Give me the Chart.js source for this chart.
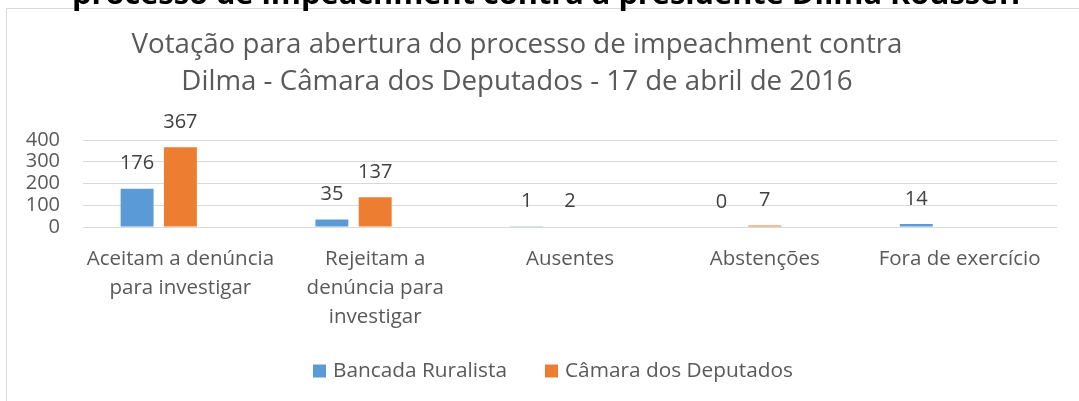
<!DOCTYPE html>
<html>
<head>
<meta charset="utf-8">
<script src="https://cdn.jsdelivr.net/npm/chart.js@4.4.0/dist/chart.umd.min.js"></script>
<style>
html,body{margin:0;padding:0;background:#fff;overflow:hidden;}
#wrap{position:absolute;left:0;top:0;width:1079px;height:401px;}
</style>
</head>
<body>
<div id="wrap"><canvas id="c" width="1079" height="401"></canvas></div>
<script>
const categories = [
  ["Aceitam a denúncia", "para investigar"],
  ["Rejeitam a", "denúncia para", "investigar"],
  "Ausentes",
  "Abstenções",
  "Fora de exercício"
];
const seriesNames = ["Bancada Ruralista", "Câmara dos Deputados"];
const bancadaRuralista = [176, 35, 1, 0, 14];
const camaraDeputados = [367, 137, 2, 7, null];
const emptySeries = [null, null, null, null, null];
const yTicks = [0, 100, 200, 300, 400];
const titleLines = ["Votação para abertura do processo de impeachment contra", "Dilma - Câmara dos Deputados - 17 de abril de 2016"];
const headingText = "processo de impeachment contra a presidente Dilma Rousseff";

const FONT = "'Open Sans', sans-serif";

const decor = {
  id: 'decor',
  beforeDraw(chart) {
    const ctx = chart.ctx;
    ctx.save();
    ctx.strokeStyle = '#d9d9d9';
    ctx.lineWidth = 1;
    ctx.strokeRect(6.5, 8.5, 1200, 600);
    // cut-off heading
    ctx.fillStyle = '#000';
    ctx.font = "bold 28px " + FONT;
    ctx.textAlign = 'left';
    ctx.textBaseline = 'alphabetic';
    const w = ctx.measureText(headingText).width;
    const sx = 950 / w;
    ctx.translate(72, 4);
    ctx.scale(sx, 1);
    ctx.fillText(headingText, 0, 0);
    ctx.restore();
    // title
    ctx.save();
    ctx.fillStyle = '#595959';
    ctx.font = "27.7px " + FONT;
    ctx.textAlign = 'center';
    ctx.textBaseline = 'alphabetic';
    ctx.fillText(titleLines[0], 517, 53);
    ctx.fillText(titleLines[1], 517, 90);
    ctx.restore();
  },
  afterDraw(chart) {
    // legend (series names and colours taken from the datasets)
    const ctx = chart.ctx;
    ctx.save();
    ctx.font = "20.8px " + FONT;
    ctx.textAlign = 'left';
    ctx.textBaseline = 'middle';
    const boxX = [313, 545];
    const cy = 371;
    [0, 1].forEach(di => {
      const ds = chart.data.datasets[di];
      ctx.fillStyle = ds.backgroundColor;
      ctx.fillRect(boxX[di], cy - 6.5, 13, 13);
      ctx.fillStyle = '#595959';
      ctx.fillText(ds.label, boxX[di] + 20, cy);
    });
    ctx.restore();
  },
  afterDatasetsDraw(chart) {
    const ctx = chart.ctx;
    ctx.save();
    ctx.fillStyle = '#404040';
    ctx.font = "20px " + FONT;
    ctx.textAlign = 'center';
    ctx.textBaseline = 'middle';
    [0, 1].forEach(di => {
      const meta = chart.getDatasetMeta(di);
      const data = chart.data.datasets[di].data;
      meta.data.forEach((bar, i) => {
        if (data[i] === null || data[i] === undefined) return;
        ctx.fillText(String(data[i]), bar.x, bar.y - 25);
      });
    });
    ctx.restore();
  }
};

new Chart(document.getElementById('c'), {
  type: 'bar',
  data: {
    labels: categories,
    datasets: [
      { label: seriesNames[0], data: bancadaRuralista, backgroundColor: '#5B9BD5' },
      { label: seriesNames[1], data: camaraDeputados, backgroundColor: '#ED7D31' },
      { label: '', data: emptySeries, backgroundColor: '#A5A5A5' }
    ]
  },
  options: {
    responsive: false,
    animation: false,
    events: [],
    datasets: { bar: { categoryPercentage: 0.667, barPercentage: 0.76 } },
    layout: { padding: { top: 140, left: 0, right: 22, bottom: 0 } },
    plugins: {
      title: { display: false },
      tooltip: { enabled: false },
      legend: { display: false }
    },
    scales: {
      x: {
        grid: { display: false, drawTicks: false },
        border: { display: false },
        ticks: {
          color: '#595959', padding: 18, maxRotation: 0, autoSkip: false,
          font: { family: FONT, size: 20.5, lineHeight: 1.415 }
        },
        afterFit(scale) { scale.height = 174; }
      },
      y: {
        min: 0, max: 400,
        afterBuildTicks(scale) { scale.ticks = yTicks.map(v => ({ value: v })); },
        grid: { color: '#d9d9d9', lineWidth: 1, drawTicks: false },
        border: { display: false },
        ticks: { color: '#595959', padding: 23, autoSkip: false, font: { family: FONT, size: 20 } },
        afterFit(scale) { scale.width = 83; }
      }
    }
  },
  plugins: [decor]
});
</script>
</body>
</html>
